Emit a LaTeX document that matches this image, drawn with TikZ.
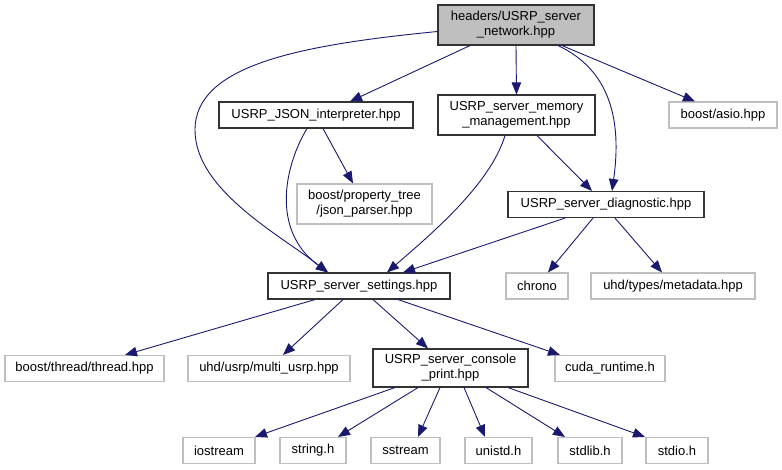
\documentclass[tikz,border=0pt]{standalone}
\usepackage{fontspec}
\setmainfont{Liberation Sans}
\usetikzlibrary{arrows.meta}
\definecolor{edgecol}{HTML}{191970}
\definecolor{lightb}{HTML}{BFBFBF}
\begin{document}
\begin{tikzpicture}[x=1pt,y=-1pt,
  box/.style={draw=black!80, line width=1.1pt, inner sep=0pt, align=center,
    font=\fontsize{13}{15}\selectfont, minimum height=26pt},
  ext/.style={box, draw=lightb},
  rootbox/.style={box, fill=lightb},
  dep/.style={draw=edgecol, line width=0.9pt, -{Triangle[length=12pt,width=9.5pt]}}
]
\useasboundingbox (0,0) rectangle (782,469);
% nodes
\node[rootbox, minimum width=156pt, minimum height=40pt] (root) at (516,25) {headers/USRP\_server\\\_network.hpp};
\node[box, minimum width=194pt] (json) at (316,115) {USRP\_JSON\_interpreter.hpp};
\node[box, minimum width=157pt, minimum height=40pt] (memory) at (516.5,115) {USRP\_server\_memory\\\_management.hpp};
\node[ext, minimum width=108pt] (asio) at (723,115) {boost/asio.hpp};
\node[ext, minimum width=135pt, minimum height=40pt] (ptree) at (364.5,204) {boost/property\_tree\\/json\_parser.hpp};
\node[box, minimum width=196pt] (diag) at (606,204.5) {USRP\_server\_diagnostic.hpp};
\node[box, minimum width=182pt] (settings) at (359,286) {USRP\_server\_settings.hpp};
\node[ext, minimum width=62pt] (chrono) at (537,286) {chrono};
\node[ext, minimum width=164pt] (metadata) at (673,286) {uhd/types/metadata.hpp};
\node[ext, minimum width=159pt] (thread) at (84.5,368.5) {boost/thread/thread.hpp};
\node[ext, minimum width=162pt] (multi) at (269,368.5) {uhd/usrp/multi\_usrp.hpp};
\node[box, minimum width=155pt, minimum height=38pt] (console) at (450.5,368) {USRP\_server\_console\\\_print.hpp};
\node[ext, minimum width=110pt] (cuda) at (610,368.5) {cuda\_runtime.h};
\node[ext, minimum width=72pt] (iostream) at (219,450.5) {iostream};
\node[ext, minimum width=66pt] (string) at (313,450.5) {string.h};
\node[ext, minimum width=69pt] (sstream) at (405.5,450.5) {sstream};
\node[ext, minimum width=67pt] (unistd) at (498.5,450.5) {unistd.h};
\node[ext, minimum width=64pt] (stdlib) at (590,450.5) {stdlib.h};
\node[ext, minimum width=62pt] (stdio) at (677,450.5) {stdio.h};
% edges
\draw[dep] ([yshift=-6.5pt]root.west) .. controls (300,45) and (195,65) .. (195,130)
  .. controls (195,190) and (280,235) .. ([xshift=-31pt]settings.north);
\draw[dep] ([xshift=-46pt]root.south) -- ([xshift=34pt]json.north);
\draw[dep] (root.south) -- (memory.north);
\draw[dep] ([xshift=42pt]root.south) .. controls (610,70) and (622,120) .. ([xshift=6pt]diag.north);
\draw[dep] ([xshift=46pt]root.south) -- ([xshift=-28pt]asio.north);
\draw[dep] ([xshift=-9pt]json.south) .. controls (285,165) and (270,230) .. ([xshift=-31pt]settings.north);
\draw[dep] ([xshift=7pt]json.south) -- ([xshift=-11.5pt]ptree.north);
\draw[dep] ([xshift=-11.5pt]memory.south) .. controls (490,185) and (430,235) .. ([xshift=28pt]settings.north);
\draw[dep] ([xshift=20.5pt]memory.south) -- ([xshift=-14pt]diag.north);
\draw[dep] ([xshift=-41pt]diag.south) -- ([xshift=44pt]settings.north);
\draw[dep] ([xshift=-13pt]diag.south) -- ([xshift=11pt]chrono.north);
\draw[dep] ([xshift=9pt]diag.south) -- ([xshift=-11pt]metadata.north);
\draw[dep] ([xshift=-44pt]settings.south) -- ([xshift=40.5pt]thread.north);
\draw[dep] ([xshift=-16pt]settings.south) -- ([xshift=14pt]multi.north);
\draw[dep] ([xshift=14pt]settings.south) -- ([xshift=-22.5pt]console.north);
\draw[dep] ([xshift=39pt]settings.south) -- ([xshift=-50pt]cuda.north);
\draw[dep] ([xshift=-55.5pt]console.south) -- ([xshift=36pt]iostream.north);
\draw[dep] ([xshift=-32.5pt]console.south) -- ([xshift=25pt]string.north);
\draw[dep] ([xshift=-10.5pt]console.south) -- ([xshift=12.5pt]sstream.north);
\draw[dep] ([xshift=13.5pt]console.south) -- ([xshift=-13.5pt]unistd.north);
\draw[dep] ([xshift=35.5pt]console.south) -- ([xshift=-25pt]stdlib.north);
\draw[dep] ([xshift=57.5pt]console.south) -- ([xshift=-32pt]stdio.north);
\end{tikzpicture}
\end{document}
